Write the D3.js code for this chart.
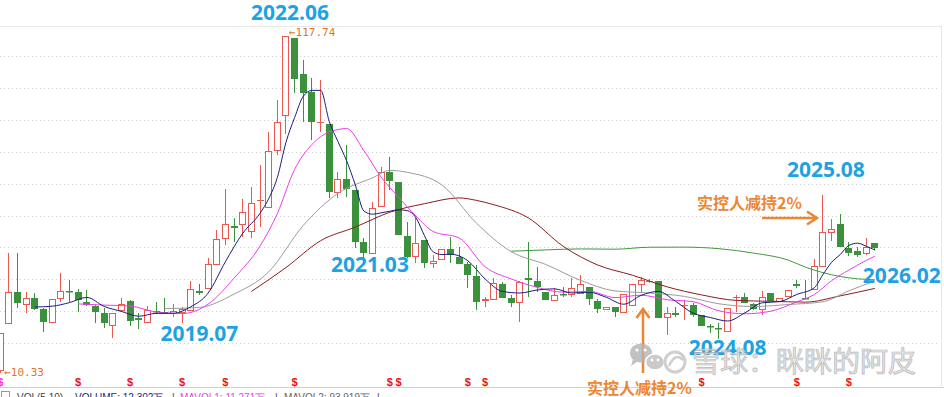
<!DOCTYPE html>
<html lang="zh">
<head>
<meta charset="UTF-8">
<title>月K线</title>
<script src="https://d3js.org/d3.v7.min.js"></script>
<style>
  body { margin: 0; background: #fff; overflow: hidden; }
  svg { display: block; font-family: "Liberation Sans", Arial, sans-serif; }
</style>
</head>
<body>
<svg id="chart" width="944" height="397"></svg>
<script>
// monthly candles, first bar 2017.09, last bar 2026.02
const firstYear = 2017, firstMonth = 9;

const opens = [10.96,25.92,36.11,31.97,34.20,30.70,26.24,33.88,36.42,36.11,
  32.92,31.65,29.42,25.29,30.06,33.24,27.83,26.24,30.06,29.74,
  29.10,29.42,30.06,36.42,37.06,44.70,52.97,57.11,57.43,55.20,
  65.23,62.84,80.98,92.12,116.94,105.48,99.76,90.05,89.61,67.61,
  72.07,68.57,52.02,48.20,63.16,74.29,71.11,53.93,47.25,52.66,
  45.02,46.29,49.79,47.25,45.02,41.20,33.24,33.56,38.65,34.20,
  32.61,40.56,39.61,36.11,33.24,35.47,35.15,35.47,37.70,33.24,
  30.38,31.33,29.42,31.65,38.33,39.29,39.61,27.83,29.42,31.81,
  31.97,28.79,25.29,24.65,23.38,34.20,34.51,32.29,30.38,35.79,
  32.92,34.51,38.65,34.20,36.74,44.06,54.88,57.75,50.11,49.15,
  48.20,51.70];
const closes = [23.06,36.11,32.61,34.20,30.70,26.56,33.88,36.42,36.11,33.56,
  31.97,29.74,26.24,29.42,32.29,26.88,27.20,30.38,29.74,29.42,
  30.06,30.70,37.06,35.79,45.02,52.97,57.75,56.47,61.57,64.43,
  65.54,80.98,90.21,117.58,103.91,99.46,90.21,90.37,67.98,72.07,
  68.89,52.02,48.52,62.84,74.29,71.43,54.25,47.25,51.70,45.34,
  45.97,49.79,47.88,45.02,41.52,32.92,33.88,38.97,34.20,32.61,
  39.29,39.93,37.70,33.56,35.15,35.15,37.38,38.65,33.88,30.70,
  31.33,29.74,35.47,38.65,39.93,39.61,27.83,29.42,28.79,32.13,
  28.79,25.29,24.97,24.33,31.01,34.51,32.61,30.70,34.51,33.24,
  34.20,36.74,38.02,33.88,44.38,55.20,56.16,50.43,48.52,47.88,
  50.43,50.11];
const highs = [23.06,48.52,48.52,36.11,35.79,31.01,33.88,42.15,39.93,37.06,
  36.74,31.97,31.01,29.42,34.20,33.56,29.42,31.65,32.92,34.20,
  32.29,31.33,39.61,38.65,46.93,55.84,68.89,59.66,65.70,69.52,
  76.53,87.03,97.22,117.74,116.94,109.94,104.24,103.59,89.61,74.29,
  82.89,68.57,53.29,64.75,75.88,79.07,71.11,58.39,59.98,52.66,
  47.88,49.79,53.61,50.43,45.66,44.70,34.51,40.56,39.29,35.15,
  39.61,52.02,43.98,36.11,37.38,37.70,40.56,41.52,37.70,33.88,
  31.33,31.33,35.47,38.65,40.88,40.24,39.61,31.33,31.33,33.56,
  32.61,28.79,25.92,26.24,31.01,35.15,35.79,32.61,36.42,35.79,
  34.20,36.74,39.93,39.93,46.61,66.97,59.34,60.93,52.02,50.43,
  53.29,51.70];
const lows = [10.33,25.92,31.01,29.42,30.38,23.38,26.24,32.92,32.92,29.74,
  31.65,26.24,24.65,21.47,29.74,25.29,24.33,26.24,29.10,29.42,
  28.15,26.24,30.06,35.15,37.06,44.70,51.07,52.02,53.61,53.29,
  56.79,62.84,79.71,86.40,99.46,90.21,84.49,87.06,66.07,66.07,
  66.38,50.11,46.29,48.20,63.16,68.57,54.25,46.93,45.34,43.75,
  43.75,46.29,45.34,45.02,37.38,30.38,31.33,33.56,34.20,31.33,
  26.56,34.51,36.11,33.56,33.24,34.51,34.51,35.47,31.97,29.42,
  30.38,28.15,29.42,31.65,35.79,38.97,27.83,22.42,28.15,27.20,
  28.15,25.29,23.06,21.15,23.38,29.74,32.61,30.38,28.79,33.24,
  32.92,34.51,37.38,33.88,36.74,44.06,52.34,50.43,47.56,47.25,
  47.88,49.47];

// moving averages (bar index -> price)
const ma5At = [4,6,8,10,12,14,16,18,20,22,24,26,28,30,31,32,33,34,35,36,37,38,39,40,41,42,43,44,45,46,
  47,48,49,50,51,52,54,56,58,60,62,64,66,68,70,72,74,76,78,80,82,84,86,88,90,92,94,95,96,97,98,99,100,101];
const ma5 = [31.33,31.59,32.73,34.39,31.52,29.93,28.40,29.30,29.36,31.40,35.72,45.72,54.76,61.15,65.80,72.55,83.75,91.64,98.42,100.27,
  100.30,90.37,84.00,77.89,70.25,61.88,60.87,61.31,61.82,62.27,62.01,59.78,53.99,48.90,48.01,48.14,46.04,40.24,36.30,35.79,
  36.74,37.12,35.79,36.04,34.39,32.22,35.02,36.30,33.11,29.39,27.99,26.88,29.49,32.67,33.05,35.34,37.44,41.64,45.53,48.01,
  50.94,51.64,50.68,49.47];
const ma10At = [9,12,15,18,21,24,27,30,32,34,36,38,39,40,42,44,46,48,50,53,56,59,62,65,68,71,74,77,80,83,86,89,92,94,96,98,100,101];
const ma10 = [32.32,31.94,31.65,29.74,29.23,32.22,40.50,50.73,61.07,75.14,83.03,87.06,87.82,88.15,81.09,72.65,66.26,60.32,55.36,53.29,
  44.13,40.28,37.60,36.04,36.33,34.32,35.09,33.66,33.04,30.11,29.18,30.00,32.99,35.28,39.70,43.08,46.16,47.50];
const ma20At = [19,23,27,31,35,39,43,45,47,51,55,59,63,67,71,75,79,83,87,91,95,98,101];
const ma20 = [30.82,31.20,35.44,42.50,57.30,67.50,72.44,74.82,74.19,70.19,58.00,48.96,44.87,39.83,36.47,35.79,34.71,32.35,31.49,32.13,
  33.02,36.49,39.59];
const ma30At = [29,33,37,41,45,49,53,55,57,61,65,69,73,77,81,85,89,93,97,101];
const ma30 = [36.27,43.89,52.43,56.76,61.50,64.21,66.05,65.26,63.89,59.67,50.68,44.70,41.45,37.76,35.18,33.43,33.15,32.89,34.88,37.25];
const ma60At = [59,63,67,71,75,79,83,87,91,93,95,97,99,101];
const ma60 = [49.09,49.50,49.82,49.73,50.36,50.39,49.89,48.49,46.26,44.00,42.28,41.04,40.31,39.99];

// horizontal grid levels
const gridLevels = [19.88,30.02,40.16,50.30,60.44,70.58,80.72,90.86,101.00,111.14];

// dividend "S" marks
const divMonths = ["2017.09","2018.06","2018.12","2019.06","2019.11","2020.07","2021.06","2021.07",
  "2022.03","2022.05","2024.06","2025.05","2025.11"];

const months = opens.map((_, i) => {
  const m = firstMonth - 1 + i;
  return (firstYear + Math.floor(m / 12)) + "." + String(m % 12 + 1).padStart(2, "0");
});
const bars = months.map((m, i) => ({ m, o: opens[i], h: highs[i], l: lows[i], c: closes[i] }));

const svg = d3.select("#chart");
const x = d3.scaleBand().domain(months).range([-4.13, 879.19]).paddingInner(0.28).paddingOuter(0.14);
const y = d3.scaleLinear().domain([10.33, 117.74]).range([373, 35.5]);
const cx = m => x(m) + x.bandwidth() / 2;

const RED = "#eb5850", GREEN = "#3c923c";

// frame + grid
svg.append("line").attr("x1", 0).attr("x2", 941).attr("y1", 26.5).attr("y2", 26.5)
  .attr("stroke", "#e8e8e8");
svg.append("line").attr("x1", 0).attr("x2", 944).attr("y1", 387.5).attr("y2", 387.5)
  .attr("stroke", "#d0d0d0");
svg.append("line").attr("x1", 941.5).attr("x2", 941.5).attr("y1", 26).attr("y2", 388)
  .attr("stroke", "#e8e8e8");
svg.append("g").selectAll("line").data(gridLevels).join("line")
  .attr("x1", 0).attr("x2", 940)
  .attr("y1", d => Math.round(y(d)) + 0.5).attr("y2", d => Math.round(y(d)) + 0.5)
  .attr("stroke", "#cfcfcf").attr("stroke-dasharray", "1,3");

// candles
const bw = 7;
const cg = svg.append("g");
bars.forEach(b => {
  const up = b.c >= b.o;
  const left = Math.round(cx(b.m) - bw / 2);
  const xm = left + bw / 2;
  const top = Math.round(y(Math.max(b.o, b.c)));
  const bot = Math.round(y(Math.min(b.o, b.c)));
  const yh = Math.round(y(b.h)), yl = Math.round(y(b.l));
  if (up) {
    if (yh < top) cg.append("line").attr("x1", xm).attr("x2", xm).attr("y1", yh).attr("y2", top).attr("stroke", RED);
    if (yl > bot) cg.append("line").attr("x1", xm).attr("x2", xm).attr("y1", bot).attr("y2", yl).attr("stroke", RED);
    cg.append("rect").attr("x", left + 0.5).attr("y", top + 0.5)
      .attr("width", bw - 1).attr("height", Math.max(bot - top - 1, 0.01))
      .attr("fill", "#fff").attr("stroke", RED);
  } else {
    cg.append("line").attr("x1", xm).attr("x2", xm).attr("y1", yh).attr("y2", yl).attr("stroke", GREEN);
    cg.append("rect").attr("x", left).attr("y", top)
      .attr("width", bw).attr("height", Math.max(bot - top, 1.5))
      .attr("fill", GREEN);
  }
});

// moving averages
const maLine = d3.line().x(d => cx(months[d[0]])).y(d => y(d[1])).curve(d3.curveMonotoneX);
const maSeries = [
  { at: ma60At, v: ma60, color: "#3f9a3f" },
  { at: ma30At, v: ma30, color: "#8b1c1c" },
  { at: ma20At, v: ma20, color: "#9c9c9c" },
  { at: ma10At, v: ma10, color: "#ee3cee" },
  { at: ma5At, v: ma5, color: "#1c1c80" }
];
maSeries.forEach(s => {
  svg.append("path").datum(s.at.map((i, k) => [i, s.v[k]]))
    .attr("d", maLine).attr("fill", "none").attr("stroke", s.color).attr("stroke-width", 1);
});

// max / min markers
const iMax = highs.indexOf(d3.max(highs)), iMin = lows.indexOf(d3.min(lows));
svg.append("text").attr("x", cx(months[iMax]) + 3).attr("y", y(highs[iMax]) - 3)
  .attr("dominant-baseline", "middle").attr("font-family", "DejaVu Sans Mono").attr("font-size", 11)
  .attr("fill", "#e0772c").text("←" + highs[iMax].toFixed(2));
svg.append("text").attr("x", cx(months[iMin]) + 4).attr("y", y(lows[iMin]))
  .attr("dominant-baseline", "middle").attr("font-family", "DejaVu Sans Mono").attr("font-size", 11)
  .attr("fill", "#e0772c").text("←" + lows[iMin].toFixed(2));

// dividend marks
svg.append("g").selectAll("text").data(divMonths).join("text")
  .attr("x", d => cx(d)).attr("y", 386).attr("text-anchor", "middle")
  .attr("font-size", 11).attr("font-weight", "bold")
  .attr("fill", (d, i) => i === 0 ? "#ff33cc" : "#ee1111").text("$");

// blue date callouts: [text, anchor month, anchor price, dx]
const callouts = [
  ["2022.06", "2020.06", 122.8, 4],
  ["2021.03", "2021.03", 42.5, 6],
  ["2019.07", "2019.08", 20.5, 0],
  ["2025.08", "2025.08", 72.7, 3],
  ["2026.02", "2026.02", 39.0, 27],
  ["2024.08", "2024.09", 16.1, 0]
];
svg.append("g").selectAll("text").data(callouts).join("text")
  .attr("x", d => cx(d[1]) + d[3]).attr("y", d => y(d[2]))
  .attr("text-anchor", "middle").attr("font-family", "Noto Sans").attr("font-weight", 700)
  .attr("font-size", 21).attr("fill", "#1ea2e2").text(d => d[0]);

// holder reduction notes
const ORANGE = "#ec8632";
svg.append("text").attr("x", 697).attr("y", 209).attr("font-family", "Noto Sans CJK SC")
  .attr("font-weight", 700).attr("font-size", 16).attr("fill", ORANGE).text("实控人减持2%");
svg.append("path").attr("d", "M762,218H816M807,211.5L817,218L807,224.5")
  .attr("fill", "none").attr("stroke", ORANGE).attr("stroke-width", 2.5);
svg.append("path").attr("d", "M643,373V310M636.5,318L643,309L649.5,318")
  .attr("fill", "none").attr("stroke", ORANGE).attr("stroke-width", 2.5);

// watermark
const wm = svg.append("g").attr("opacity", 0.8);
wm.append("ellipse").attr("cx", 641).attr("cy", 353).attr("rx", 11).attr("ry", 9.5).attr("fill", "#b4b4b4");
wm.append("path").attr("d", "M633,359L631,366L638,361Z").attr("fill", "#b4b4b4");
wm.append("circle").attr("cx", 637).attr("cy", 350).attr("r", 1.6).attr("fill", "#fff");
wm.append("circle").attr("cx", 645).attr("cy", 350).attr("r", 1.6).attr("fill", "#fff");
wm.append("ellipse").attr("cx", 655).attr("cy", 362).attr("rx", 9.5).attr("ry", 8)
  .attr("fill", "#bdbdbd").attr("stroke", "#fff").attr("stroke-width", 1.5);
wm.append("circle").attr("cx", 652).attr("cy", 360).attr("r", 1.4).attr("fill", "#fff");
wm.append("circle").attr("cx", 658).attr("cy", 360).attr("r", 1.4).attr("fill", "#fff");
wm.append("circle").attr("cx", 675).attr("cy", 362).attr("r", 10)
  .attr("fill", "none").attr("stroke", "#c4c4c4").attr("stroke-width", 3);
wm.append("path").attr("d", "M669,366Q675,352 683,360").attr("fill", "none")
  .attr("stroke", "#c4c4c4").attr("stroke-width", 2.5);
wm.append("text").attr("x", 692).attr("y", 372).attr("font-family", "Noto Sans CJK SC")
  .attr("font-size", 28).attr("fill", "#dedede").attr("stroke", "#a8a8a8").attr("stroke-width", 0.7)
  .text("雪球：眯眯的阿皮");

svg.append("text").attr("x", 587).attr("y", 394).attr("font-family", "Noto Sans CJK SC")
  .attr("font-weight", 700).attr("font-size", 16).attr("fill", ORANGE).text("实控人减持2%");

// volume legend strip (cut off by the window)
svg.append("rect").attr("x", 1.5).attr("y", 391.5).attr("width", 8).attr("height", 8)
  .attr("fill", "none").attr("stroke", "#999");
const legend = [
  ["VOL(5,10)", 17, "#444"], ["VOLUME: 12.302万", 75, "#1c1c80"], ["|", 172, "#444"],
  ["MAVOL1: 11.271万", 180, "#ee3cee"], ["|", 275, "#444"],
  ["MAVOL2: 93.919万", 284, "#666"], ["|", 377, "#444"]
];
svg.append("g").selectAll("text").data(legend).join("text")
  .attr("x", d => d[1]).attr("y", 401).attr("font-size", 10).attr("fill", d => d[2]).text(d => d[0]);
</script>
</body>
</html>
